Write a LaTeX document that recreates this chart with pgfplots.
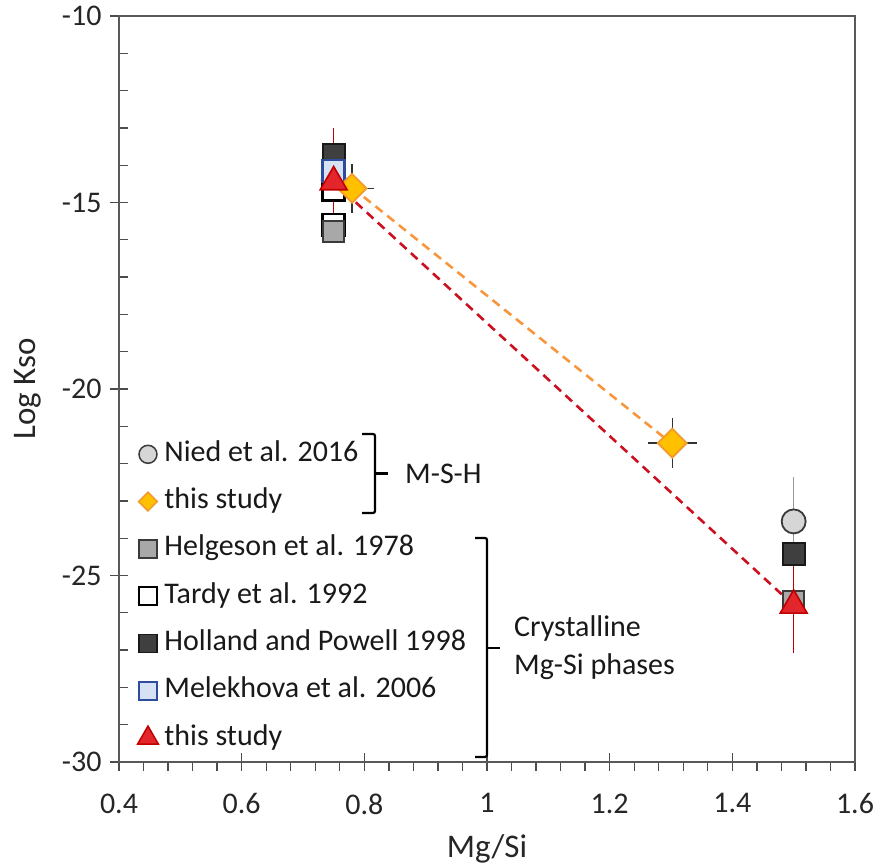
\documentclass[border=0pt]{standalone}
\usepackage{fontspec}
\setmainfont{Carlito}
\usepackage{pgfplots}
\pgfplotsset{compat=1.18}
\definecolor{niedfill}{HTML}{D6D6D6}
\definecolor{niededge}{HTML}{3A3A3A}
\definecolor{hollfill}{HTML}{3F3F3F}
\definecolor{helgfill}{HTML}{A8A8A8}
\definecolor{melefill}{HTML}{D6E2F3}
\definecolor{meleedge}{HTML}{2E4C9E}
\definecolor{trifill}{HTML}{E3262B}
\definecolor{triedge}{HTML}{C00000}
\definecolor{diafill}{HTML}{FFC000}
\definecolor{diaedge}{HTML}{F39A2E}
\definecolor{orangedash}{HTML}{F7963C}
\definecolor{reddash}{HTML}{CC1020}
\begin{document}
\begin{tikzpicture}
\begin{axis}[
  scale only axis, width=736pt, height=746pt,
  xmin=0.4, xmax=1.6, ymin=-30, ymax=-10,
  xtick={0.4,0.6,0.8,1,1.2,1.4,1.6},
  xticklabels={0.4,0.6,0.8,1,1.2,1.4,1.6},
  ytick={-30,-25,-20,-15,-10},
  minor x tick num=4, minor y tick num=4,
  xtick pos=bottom, ytick pos=left,
  axis line style={black!65, line width=1.3pt},
  tick style={black!70, line width=1.3pt},
  tick align=center,
  major tick length=18pt, minor tick length=9pt,
  minor x tick style={yshift=-4.5pt},
  minor y tick style={xshift=4.5pt},
  /pgf/number format/assume math mode=true,
  ticklabel style={font=\fontsize{30}{36}\selectfont, text=black!85},
  xticklabel style={yshift=-19pt},
  yticklabel style={xshift=-5pt},
  xlabel={Mg/Si}, ylabel={Log Kso},
  label style={font=\fontsize{33}{40}\selectfont, text=black!85},
  xlabel style={yshift=-13pt},
  ylabel style={yshift=14pt},
  legend cell align=left,
  legend style={at={(axis cs:0.43,-21.37)}, anchor=north west, draw=none, fill=none,
    font=\fontsize{30}{36}\selectfont, inner sep=0pt, row sep=19.3pt, column sep=6pt,
    nodes={inner sep=0pt, text height=21pt, text depth=7pt, text=black!90}},
]
% dashed trend lines
\addplot[forget plot, orangedash, line width=2.6pt, dash pattern=on 9pt off 6pt] coordinates {(0.78,-14.6) (1.3,-21.45)};
\addplot[forget plot, reddash, line width=2.6pt, dash pattern=on 9pt off 6pt] coordinates {(0.75,-14.45) (1.5,-25.8)};
% Nied et al. 2016
\addplot[forget plot, only marks, mark=*, mark size=12pt, mark options={fill=niedfill, draw=niededge, line width=1.8pt},
  error bars/.cd, y dir=both, y explicit, error bar style={black!40, line width=1.3pt},
  error mark options={black!40, line width=1.3pt, mark size=7pt}]
  table[x=x, y=y, y error=ey] {
x y ey
0.75 -14.4 0
1.5 -23.55 1.0
};
% Tardy et al. 1992
\addplot[forget plot, only marks, mark=square*, mark size=11pt, mark options={fill=white, draw=black, line width=2.6pt}]
  coordinates {(0.75,-14.65) (0.75,-15.6)};
% Helgeson et al. 1978
\addplot[forget plot, only marks, mark=square*, mark size=10.5pt, mark options={fill=helgfill, draw=niededge, line width=1.8pt}]
  coordinates {(0.75,-15.78) (1.5,-25.7)};
% Holland and Powell 1998
\addplot[forget plot, only marks, mark=square*, mark size=11pt, mark options={fill=hollfill, draw=black!90, line width=1.8pt}]
  coordinates {(0.75,-13.72) (1.5,-24.42)};
% Melekhova et al. 2006
\addplot[forget plot, only marks, mark=square*, mark size=11pt, mark options={fill=melefill, draw=meleedge, line width=2.4pt}]
  coordinates {(0.75,-14.15)};
% this study (M-S-H)
\addplot[forget plot, only marks, mark=square*, mark size=10.2pt, mark options={rotate=45, fill=diafill, draw=diaedge, line width=1.8pt},
  error bars/.cd, x dir=both, x explicit, y dir=both, y explicit, error bar style={black!80, line width=1.3pt},
  error mark options={black!80, line width=1.3pt, mark size=6pt}]
  table[x=x, y=y, x error=ex, y error=ey] {
x y ex ey
0.78 -14.62 0.026 0.5
1.302 -21.45 0.03 0.5
};
% this study (crystalline)
\addplot[forget plot, only marks, mark=triangle*, mark size=15.5pt, mark options={fill=trifill, draw=triedge, line width=1.6pt},
  error bars/.cd, y dir=both, y explicit, error bar style={triedge, line width=1.4pt},
  error mark options={triedge, line width=1.4pt, mark size=7pt}]
  table[x=x, y=y, y error=ey] {
x y ey
0.75 -14.45 1.25
1.5 -25.8 1.1
};
% legend entries
\addlegendimage{only marks, mark=*, mark size=9pt, mark options={fill=niedfill, draw=niededge, line width=1.5pt}}
\addlegendentry{Nied et al. 2016}
\addlegendimage{only marks, mark=square*, mark size=6.6pt, mark options={rotate=45, fill=diafill, draw=diaedge, line width=1.5pt}}
\addlegendentry{this study}
\addlegendimage{only marks, mark=square*, mark size=9pt, mark options={fill=helgfill, draw=niededge, line width=1.5pt}}
\addlegendentry{Helgeson et al. 1978}
\addlegendimage{only marks, mark=square*, mark size=9pt, mark options={fill=white, draw=black, line width=2.4pt}}
\addlegendentry{Tardy et al. 1992}
\addlegendimage{only marks, mark=square*, mark size=9pt, mark options={fill=hollfill, draw=black!90, line width=1.5pt}}
\addlegendentry{Holland and Powell 1998}
\addlegendimage{only marks, mark=square*, mark size=9pt, mark options={fill=melefill, draw=meleedge, line width=2.2pt}}
\addlegendentry{Melekhova et al. 2006}
\addlegendimage{only marks, mark=triangle*, mark size=12pt, mark options={fill=trifill, draw=triedge, line width=1.5pt}}
\addlegendentry{this study}
\end{axis}
\begin{scope}[shift={(current axis.south west)}, xshift=-119pt, yshift=762pt, x=1pt, y=-1pt]
  \draw[black, line width=2.2pt, rounded corners=2pt] (362,434) -- (375,434) -- (375,513) -- (362,513);
  \draw[black, line width=2.2pt] (375,473.5) -- (388,473.5);
  \node[anchor=west, inner sep=0pt, font=\fontsize{30}{36}\selectfont, text=black!90] at (405,473.5) {M-S-H};
  \draw[black, line width=2.2pt, rounded corners=2pt] (475,538) -- (487,538) -- (487,757) -- (475,757);
  \draw[black, line width=2.2pt] (487,648) -- (500,648);
  \node[anchor=west, inner sep=0pt, align=left, font=\fontsize{30}{38}\selectfont, text=black!90] at (514,648) {Crystalline\\Mg-Si phases};
  \pgfresetboundingbox
  \path (0,0) rectangle (880,867);
\end{scope}
\end{tikzpicture}
\end{document}
